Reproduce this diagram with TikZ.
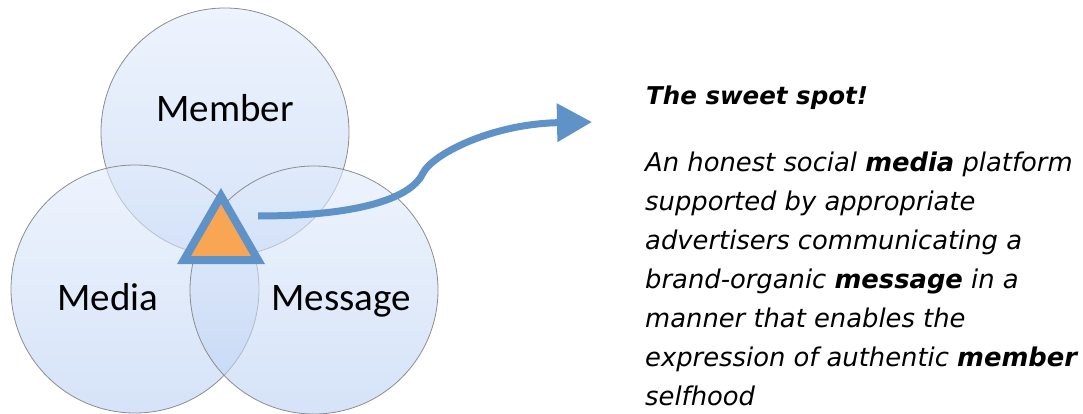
\documentclass[tikz,border=0pt]{standalone}
\usepackage{fontspec}
\setmainfont{DejaVu Sans}
\newfontfamily\calib{Carlito}
\usetikzlibrary{arrows.meta}
\definecolor{ringtop}{RGB}{226,236,252}
\definecolor{ringbot}{RGB}{186,208,243}
\definecolor{ringline}{RGB}{140,140,140}
\definecolor{spotblue}{RGB}{95,146,198}
\definecolor{spotorange}{RGB}{248,166,84}
\tikzstyle{ring} = [circle, draw=ringline, line width=0.8pt, minimum size=248pt, inner sep=0pt, top color=ringtop, bottom color=ringbot, fill opacity=0.6]
\tikzstyle{ringlabel} = [font=\calib\fontsize{39}{40}\selectfont, inner sep=0pt, anchor=base]
\tikzstyle{blurb} = [inner sep=0pt, anchor=base west, align=left, font=\itshape\fontsize{25.8}{39}\selectfont]

\begin{document}
\begin{tikzpicture}[x=1pt, y=1pt]

        \useasboundingbox (0,0) rectangle (1083,413);

        % the three rings
        \node (member) [ring] at (225,281) {};
        \node (media) [ring] at (135,124) {};
        \node (message) [ring] at (314,123) {};

        \node (memberlbl) [ringlabel] at (225,291) {Member};
        \node (medialbl) [ringlabel] at (108,103) {Media};
        \node (messagelbl) [ringlabel] at (341,103) {Message};

        % sweet spot
        \draw[spotblue, line width=8pt, fill=spotorange, miter limit=10] (221,217) -- (184,153) -- (258,153) -- cycle;

        \coordinate (spot) at (258,197);
        \coordinate (kink) at (423,240);
        \coordinate (tip) at (592,291);
        \draw[spotblue, line width=7pt, -{Triangle[length=35pt, width=37pt]}] (spot) .. controls (350,197) and (410,212) .. (kink) .. controls (432,258) and (490,289) .. (tip);

        % the text on the right (base = last line)
        \node (title) [blurb, font=\itshape\bfseries\fontsize{24.5}{39}\selectfont] at (646,308) {The sweet spot!};
        \node (body) [blurb] at (645,8) {An honest social \textbf{media} platform\\
            supported by appropriate\\
            advertisers communicating a\\
            brand-organic \textbf{message} in a\\
            manner that enables the\\
            expression of authentic \textbf{member}\\
            selfhood};

    \end{tikzpicture}
\end{document}
